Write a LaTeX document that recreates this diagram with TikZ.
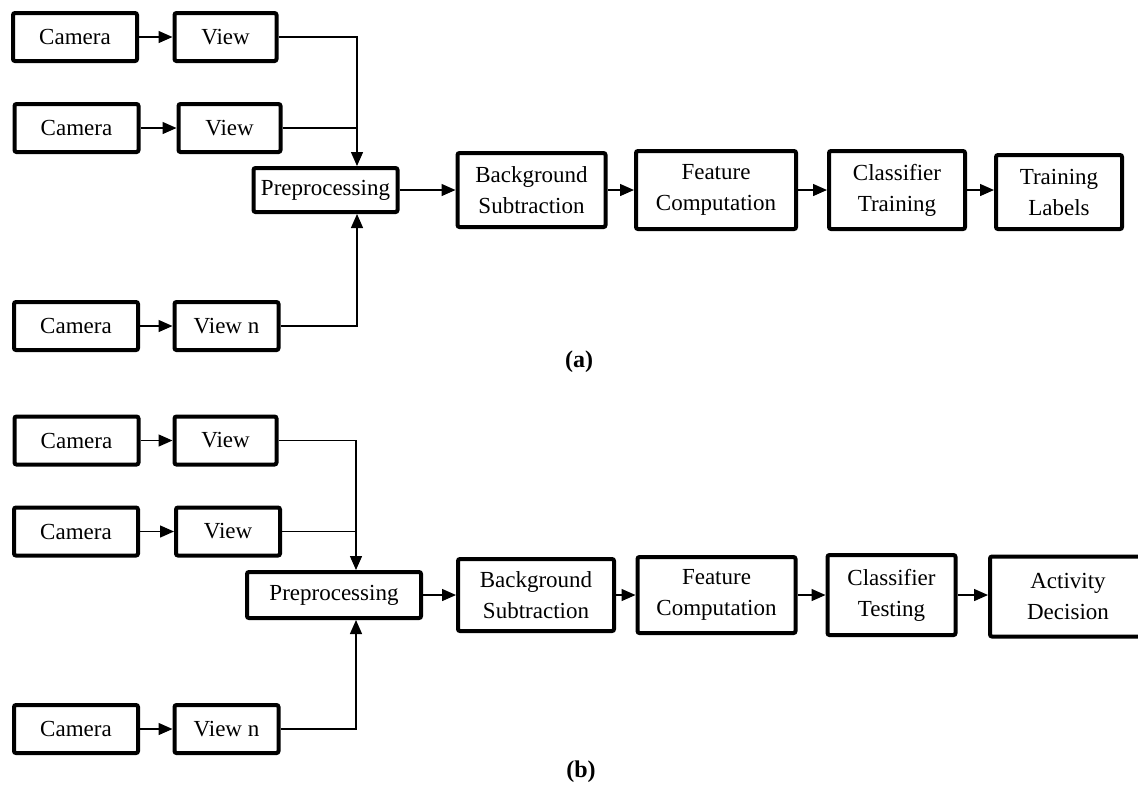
\documentclass[tikz,border=0pt]{standalone}
\usepackage{fontspec}
\setmainfont{Liberation Serif}
\usetikzlibrary{arrows.meta}

\begin{document}
\begin{tikzpicture}[x=0.5pt, y=-0.5pt,
    box/.style={draw, line width=2pt, rounded corners=1pt, inner sep=0pt, align=center,
        font=\fontsize{11.5}{15.5}\selectfont},
    arr/.style={line width=0.7pt, -{Triangle[length=7pt, width=6pt]}},
    wire/.style={line width=0.7pt}]
    \useasboundingbox (0,0) rectangle (1138,784);

    % (a) training
    \node[box, minimum width=62pt, minimum height=24pt] (cama1) at (75,37) {Camera};
    \node[box, minimum width=51pt, minimum height=24pt] (viewa1) at (225.5,37) {View};
    \node[box, minimum width=62pt, minimum height=24pt] (cama2) at (76.5,128) {Camera};
    \node[box, minimum width=51pt, minimum height=24pt] (viewa2) at (229.5,128) {View};
    \node[box, minimum width=62pt, minimum height=24pt] (cama3) at (76,326) {Camera};
    \node[box, minimum width=52pt, minimum height=24pt] (viewa3) at (226.5,326) {View n};
    \node[box, minimum width=72pt, minimum height=22pt] (prea) at (325.5,190) {Preprocessing};
    \node[box, minimum width=74pt, minimum height=37pt] (bga) at (531.5,190) {Background\\Subtraction};
    \node[box, minimum width=80pt, minimum height=39pt] (fea) at (716,190) {Feature\\Computation};
    \node[box, minimum width=68pt, minimum height=39pt] (cla) at (897,190) {Classifier\\Training};
    \node[box, minimum width=63pt, minimum height=37pt] (tla) at (1059,192) {Training\\Labels};
    \coordinate (ja) at (357,190);
    \node[font=\bfseries\fontsize{12}{14}\selectfont] (laba) at (579,362) {(a)};

    \draw[arr] (cama1) -- (viewa1);
    \draw[arr] (cama2) -- (viewa2);
    \draw[arr] (cama3) -- (viewa3);
    \draw[arr] (viewa1.east) -| (ja |- prea.north);
    \draw[wire] (viewa2.east) -- (viewa2.east -| ja);
    \draw[arr] (viewa3.east) -| (ja |- prea.south);
    \draw[arr] (prea) -- (bga);
    \draw[arr] (bga) -- (fea);
    \draw[arr] (fea) -- (cla);
    \draw[arr] (cla.east) -- (tla.west |- cla.east);

    % (b) testing
    \node[box, minimum width=62pt, minimum height=24pt] (camb1) at (76.5,440.5) {Camera};
    \node[box, minimum width=51pt, minimum height=24pt] (viewb1) at (225.5,440.5) {View};
    \node[box, minimum width=62pt, minimum height=24pt] (camb2) at (76,531.5) {Camera};
    \node[box, minimum width=52pt, minimum height=24pt] (viewb2) at (228,531.5) {View};
    \node[box, minimum width=62pt, minimum height=24pt] (camb3) at (76,729) {Camera};
    \node[box, minimum width=52pt, minimum height=24pt] (viewb3) at (226.5,729) {View n};
    \node[box, minimum width=87pt, minimum height=23pt] (preb) at (334,595) {Preprocessing};
    \node[box, minimum width=78pt, minimum height=36pt] (bgb) at (536,595) {Background\\Subtraction};
    \node[box, minimum width=79pt, minimum height=38pt] (feb) at (716.5,595) {Feature\\Computation};
    \node[box, minimum width=64pt, minimum height=40pt] (ctb) at (891.5,595) {Classifier\\Testing};
    \node[box, minimum width=78pt, minimum height=40pt] (adb) at (1068,596.5) {Activity\\Decision};
    \coordinate (jb) at (356,595);
    \node[font=\bfseries\fontsize{12}{14}\selectfont] (labb) at (581,772) {(b)};

    \draw[arr] (camb1) -- (viewb1);
    \draw[arr] (camb2) -- (viewb2);
    \draw[arr] (camb3) -- (viewb3);
    \draw[arr] (viewb1.east) -| (jb |- preb.north);
    \draw[wire] (viewb2.east) -- (viewb2.east -| jb);
    \draw[arr] (viewb3.east) -| (jb |- preb.south);
    \draw[arr] (preb) -- (bgb);
    \draw[arr] (bgb) -- (feb);
    \draw[arr] (feb) -- (ctb);
    \draw[arr] (ctb.east) -- (adb.west |- ctb.east);
\end{tikzpicture}
\end{document}
